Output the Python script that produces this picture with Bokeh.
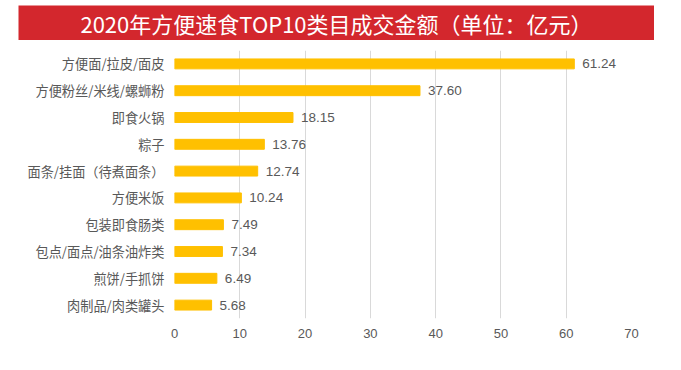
from bokeh.plotting import figure
from bokeh.layouts import column, row
from bokeh.models import Range1d, FactorRange, FixedTicker, Spacer
from bokeh.core.properties import value
from bokeh.embed import file_html
from bokeh.resources import INLINE

title_text = "2020年方便速食TOP10类目成交金额（单位：亿元）"
categories = ["方便面/拉皮/面皮", "方便粉丝/米线/螺蛳粉", "即食火锅", "粽子",
              "面条/挂面（待煮面条）", "方便米饭", "包装即食肠类",
              "包点/面点/油条油炸类", "煎饼/手抓饼", "肉制品/肉类罐头"]
amounts = [61.24, 37.60, 18.15, 13.76, 12.74, 10.24, 7.49, 7.34, 6.49, 5.68]
amount_labels = ["61.24", "37.60", "18.15", "13.76", "12.74", "10.24", "7.49", "7.34", "6.49", "5.68"]
x_ticks = [0, 10, 20, 30, 40, 50, 60, 70]

CJK = "Noto Sans CJK SC"
GREY = "#595959"

# Title banner
banner = figure(width=636, height=35, x_range=Range1d(0, 1), y_range=Range1d(0, 1),
                x_axis_type=None, y_axis_type=None, toolbar_location=None,
                output_backend="svg", min_border=0)
banner.background_fill_color = "#D3272D"
banner.border_fill_color = "#D3272D"
banner.outline_line_color = None
banner.grid.visible = False
banner.text(x=[0.5], y=[0.5], text=[title_text], text_color="white",
            text_font=value(CJK), text_font_size="22px",
            text_align="center", text_baseline="middle")

# Main chart
p = figure(width=660, height=310, y_range=FactorRange(*reversed(categories)),
           x_range=Range1d(0, 70), toolbar_location=None, output_backend="svg",
           min_border_left=174, min_border_right=29, min_border_top=10,
           min_border_bottom=32)
p.outline_line_color = None
p.hbar(y=categories, right=amounts, height=0.37, color="#FFC000")
p.text(x=amounts, y=categories, text=amount_labels, x_offset=8,
       text_baseline="middle", text_align="left", text_color=GREY,
       text_font=value("Liberation Sans"), text_font_size="13.5px")

p.xaxis.ticker = FixedTicker(ticks=x_ticks)
p.xaxis.axis_line_color = None
p.xaxis.major_tick_line_color = None
p.xaxis.major_tick_out = 0
p.xaxis.minor_tick_line_color = None
p.xaxis.major_label_standoff = 10
p.xaxis.major_label_text_font = "Liberation Sans"
p.xaxis.major_label_text_font_size = "13px"
p.xaxis.major_label_text_color = GREY

p.yaxis.axis_line_color = None
p.yaxis.major_tick_line_color = None
p.yaxis.major_tick_out = 0
p.yaxis.minor_tick_line_color = None
p.yaxis.major_label_standoff = 10
p.yaxis.major_label_text_font = CJK
p.yaxis.major_label_text_font_size = "13.2px"
p.yaxis.major_label_text_color = GREY

p.ygrid.visible = False
p.xgrid.grid_line_color = "#D9D9D9"
p.xgrid.grid_line_width = 1

layout = column(Spacer(width=10, height=5),
                row(Spacer(width=18, height=35), banner),
                p)
open("out.html", "w").write(file_html(layout, INLINE))
